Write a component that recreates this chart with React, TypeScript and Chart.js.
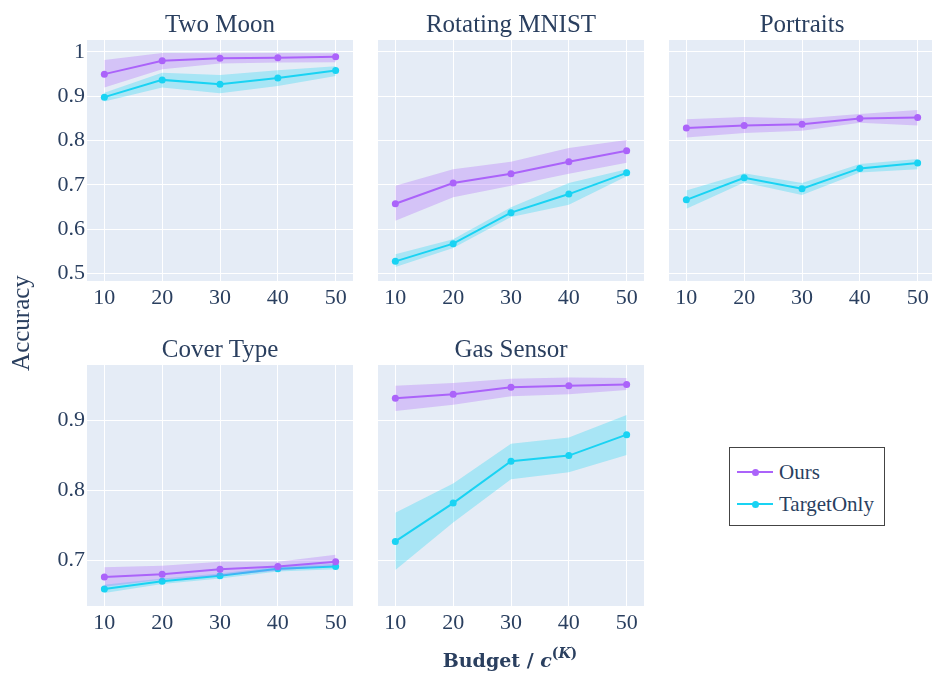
import React, { useEffect, useRef } from "react";
import { Chart, registerables } from "chart.js";

Chart.register(...registerables);

// ---- data ----
const budgets = [10, 20, 30, 40, 50];
const xTicks = [10, 20, 30, 40, 50];
const topYTicks = [0.5, 0.6, 0.7, 0.8, 0.9, 1];
const bottomYTicks = [0.7, 0.8, 0.9];
const seriesNames = ["Ours", "TargetOnly"];

const twoMoonOurs = [0.95, 0.98, 0.986, 0.987, 0.989];
const twoMoonOursLo = [0.92, 0.961, 0.974, 0.976, 0.977];
const twoMoonOursHi = [0.982, 0.998, 0.997, 0.998, 0.997];
const twoMoonTarget = [0.898, 0.937, 0.927, 0.941, 0.958];
const twoMoonTargetLo = [0.888, 0.92, 0.907, 0.923, 0.946];
const twoMoonTargetHi = [0.908, 0.953, 0.948, 0.959, 0.968];

const mnistOurs = [0.657, 0.704, 0.725, 0.752, 0.777];
const mnistOursLo = [0.619, 0.672, 0.698, 0.725, 0.75];
const mnistOursHi = [0.698, 0.735, 0.752, 0.783, 0.801];
const mnistTarget = [0.527, 0.567, 0.637, 0.679, 0.727];
const mnistTargetLo = [0.514, 0.557, 0.627, 0.655, 0.719];
const mnistTargetHi = [0.543, 0.577, 0.649, 0.704, 0.735];

const portraitsOurs = [0.828, 0.834, 0.837, 0.85, 0.852];
const portraitsOursLo = [0.807, 0.817, 0.822, 0.84, 0.834];
const portraitsOursHi = [0.848, 0.853, 0.85, 0.86, 0.869];
const portraitsTarget = [0.666, 0.716, 0.691, 0.737, 0.749];
const portraitsTargetLo = [0.646, 0.705, 0.677, 0.728, 0.735];
const portraitsTargetHi = [0.687, 0.726, 0.704, 0.747, 0.758];

const coverOurs = [0.676, 0.68, 0.687, 0.691, 0.698];
const coverOursLo = [0.662, 0.672, 0.678, 0.685, 0.692];
const coverOursHi = [0.69, 0.692, 0.698, 0.698, 0.708];
const coverTarget = [0.659, 0.67, 0.678, 0.688, 0.691];
const coverTargetLo = [0.653, 0.666, 0.674, 0.684, 0.687];
const coverTargetHi = [0.665, 0.674, 0.681, 0.691, 0.695];

const gasOurs = [0.932, 0.938, 0.948, 0.95, 0.952];
const gasOursLo = [0.914, 0.923, 0.935, 0.938, 0.944];
const gasOursHi = [0.95, 0.954, 0.96, 0.962, 0.961];
const gasTarget = [0.727, 0.782, 0.842, 0.85, 0.88];
const gasTargetLo = [0.686, 0.754, 0.816, 0.826, 0.851];
const gasTargetHi = [0.768, 0.81, 0.867, 0.876, 0.908];

// ---- styling / layout ----
const OURS_COLOR = "#AB63FA";
const TARGET_COLOR = "#19D3F3";
const OURS_BAND = "rgba(171,99,250,0.3)";
const TARGET_BAND = "rgba(25,211,243,0.3)";
const TEXT_COLOR = "#2a3f5f";
const PLOT_BG = "#E5ECF6";
const SERIF = "'Liberation Serif', 'Times New Roman', serif";

const COL_LEFT = [87, 378, 669];
const ROW_TOP = [40, 365];
const PLOT_W = 266;
const PLOT_H = 241;
const ROW_RANGE = [
  { min: 0.4826, max: 1.0271, ticks: topYTicks },
  { min: 0.6345, max: 0.9798, ticks: bottomYTicks },
];
const X_MIN = 7;
const X_MAX = 53;

// space around each plot area inside its canvas
const PAD_L = 70;
const PAD_B = 45;
const PAD_T = 20;
const PAD_R = 20;

type PanelSpec = {
  title: string;
  row: number;
  col: number;
  ours: number[];
  oursLo: number[];
  oursHi: number[];
  target: number[];
  targetLo: number[];
  targetHi: number[];
};

const panels: PanelSpec[] = [
  { title: "Two Moon", row: 0, col: 0, ours: twoMoonOurs, oursLo: twoMoonOursLo, oursHi: twoMoonOursHi, target: twoMoonTarget, targetLo: twoMoonTargetLo, targetHi: twoMoonTargetHi },
  { title: "Rotating MNIST", row: 0, col: 1, ours: mnistOurs, oursLo: mnistOursLo, oursHi: mnistOursHi, target: mnistTarget, targetLo: mnistTargetLo, targetHi: mnistTargetHi },
  { title: "Portraits", row: 0, col: 2, ours: portraitsOurs, oursLo: portraitsOursLo, oursHi: portraitsOursHi, target: portraitsTarget, targetLo: portraitsTargetLo, targetHi: portraitsTargetHi },
  { title: "Cover Type", row: 1, col: 0, ours: coverOurs, oursLo: coverOursLo, oursHi: coverOursHi, target: coverTarget, targetLo: coverTargetLo, targetHi: coverTargetHi },
  { title: "Gas Sensor", row: 1, col: 1, ours: gasOurs, oursLo: gasOursLo, oursHi: gasOursHi, target: gasTarget, targetLo: gasTargetLo, targetHi: gasTargetHi },
];

const plotBackground = {
  id: "plotBackground",
  beforeDraw(chart: any) {
    const { ctx, chartArea: a } = chart;
    ctx.save();
    ctx.fillStyle = PLOT_BG;
    ctx.fillRect(a.left, a.top, a.right - a.left, a.bottom - a.top);
    ctx.restore();
  },
};

const points = (ys: number[]) => budgets.map((x, i) => ({ x, y: ys[i] }));

function Panel({ spec }: { spec: PanelSpec }) {
  const ref = useRef<HTMLCanvasElement>(null);
  const width = PLOT_W + PAD_L + PAD_R;
  const height = PLOT_H + PAD_T + PAD_B;
  const showY = spec.col === 0;
  const range = ROW_RANGE[spec.row];

  useEffect(() => {
    const lineStyle = (color: string) => ({
      borderColor: color,
      backgroundColor: color,
      borderWidth: 2,
      pointRadius: 3.5,
      pointBorderWidth: 0,
      pointBackgroundColor: color,
      tension: 0,
      fill: false,
    });
    const bandEdge = { borderWidth: 0, pointRadius: 0, tension: 0, borderColor: "rgba(0,0,0,0)" };
    const tickFont = { family: SERIF, size: 22 };

    const chart = new Chart(ref.current as HTMLCanvasElement, {
      type: "line",
      data: {
        datasets: [
          { label: seriesNames[0], data: points(spec.ours), ...lineStyle(OURS_COLOR), order: 0 },
          { label: seriesNames[0] + " upper", data: points(spec.oursHi), ...bandEdge, fill: false, order: 1 },
          { label: seriesNames[0] + " lower", data: points(spec.oursLo), ...bandEdge, fill: "-1", backgroundColor: OURS_BAND, order: 1 },
          { label: seriesNames[1], data: points(spec.target), ...lineStyle(TARGET_COLOR), order: 2 },
          { label: seriesNames[1] + " upper", data: points(spec.targetHi), ...bandEdge, fill: false, order: 3 },
          { label: seriesNames[1] + " lower", data: points(spec.targetLo), ...bandEdge, fill: "-1", backgroundColor: TARGET_BAND, order: 3 },
        ] as any,
      },
      options: {
        animation: false,
        responsive: false,
        devicePixelRatio: 1,
        events: [],
        layout: { padding: { top: PAD_T, right: PAD_R, left: 0, bottom: 0 } },
        plugins: {
          legend: { display: false },
          tooltip: { enabled: false },
          title: { display: false },
        },
        scales: {
          x: {
            type: "linear",
            min: X_MIN,
            max: X_MAX,
            grid: { color: "#ffffff", lineWidth: 1, drawTicks: false },
            border: { display: false },
            ticks: {
              padding: 4,
              color: TEXT_COLOR,
              font: tickFont,
              maxRotation: 0,
              autoSkip: false,
              callback: (v: any) => String(v),
            },
            afterBuildTicks: (axis: any) => {
              axis.ticks = xTicks.map((value) => ({ value }));
            },
            afterFit: (scale: any) => {
              scale.height = PAD_B;
            },
          },
          y: {
            type: "linear",
            min: range.min,
            max: range.max,
            grid: { color: "#ffffff", lineWidth: 1, drawTicks: false },
            border: { display: false },
            ticks: {
              display: showY,
              padding: 2,
              color: TEXT_COLOR,
              font: tickFont,
              autoSkip: false,
              callback: (v: any) => String(v),
            },
            afterBuildTicks: (axis: any) => {
              axis.ticks = range.ticks.map((value) => ({ value }));
            },
            afterFit: (scale: any) => {
              scale.width = PAD_L;
            },
          },
        },
      } as any,
      plugins: [plotBackground],
    });
    return () => chart.destroy();
  }, []);

  return (
    <canvas
      ref={ref}
      width={width}
      height={height}
      style={{
        position: "absolute",
        left: COL_LEFT[spec.col] - PAD_L,
        top: ROW_TOP[spec.row] - PAD_T,
        width,
        height,
      }}
    />
  );
}

function PanelTitle({ spec }: { spec: PanelSpec }) {
  return (
    <div
      style={{
        position: "absolute",
        left: COL_LEFT[spec.col],
        width: PLOT_W,
        top: ROW_TOP[spec.row] - 29,
        textAlign: "center",
        fontFamily: SERIF,
        fontSize: 25,
        lineHeight: "25px",
        color: TEXT_COLOR,
        whiteSpace: "nowrap",
      }}
    >
      {spec.title}
    </div>
  );
}

function LegendRow({ color, label, y }: { color: string; label: string; y: number }) {
  return (
    <>
      <div style={{ position: "absolute", left: 7, top: y - 1, width: 36, height: 2, background: color }} />
      <div
        style={{
          position: "absolute",
          left: 25 - 3.5,
          top: y - 3.5,
          width: 7,
          height: 7,
          borderRadius: "50%",
          background: color,
        }}
      />
      <div
        style={{
          position: "absolute",
          left: 49,
          top: y - 12,
          lineHeight: "24px",
          fontFamily: SERIF,
          fontSize: 21,
          color: TEXT_COLOR,
          whiteSpace: "nowrap",
        }}
      >
        {label}
      </div>
    </>
  );
}

export default function App() {
  return (
    <div
      style={{
        position: "fixed",
        left: 0,
        top: 0,
        width: 932,
        height: 673,
        overflow: "hidden",
        background: "#ffffff",
      }}
    >
      {panels.map((p) => (
        <Panel key={p.title} spec={p} />
      ))}
      {panels.map((p) => (
        <PanelTitle key={p.title + "-t"} spec={p} />
      ))}

      {/* shared y-axis title */}
      <div
        style={{
          position: "absolute",
          left: 21 - 100,
          top: 323 - 15,
          width: 200,
          height: 30,
          lineHeight: "30px",
          textAlign: "center",
          transform: "rotate(-90deg)",
          fontFamily: SERIF,
          fontSize: 25,
          color: TEXT_COLOR,
          whiteSpace: "nowrap",
        }}
      >
        Accuracy
      </div>

      {/* shared x-axis title */}
      <div
        style={{
          position: "absolute",
          left: 510 - 150,
          width: 300,
          top: 651,
          lineHeight: "19px",
          textAlign: "center",
          fontFamily: "'DejaVu Serif', serif",
          fontWeight: "bold",
          fontSize: 19,
          color: TEXT_COLOR,
          whiteSpace: "nowrap",
        }}
      >
        Budget / <i>c</i>
        <span style={{ fontSize: 14, position: "relative", top: -9 }}>
          (<i>K</i>)
        </span>
      </div>

      {/* legend */}
      <div
        style={{
          position: "absolute",
          left: 729,
          top: 447,
          width: 156,
          height: 79,
          boxSizing: "border-box",
          border: "1px solid #444444",
          background: "#ffffff",
        }}
      >
        <LegendRow color={OURS_COLOR} label={seriesNames[0]} y={24} />
        <LegendRow color={TARGET_COLOR} label={seriesNames[1]} y={56} />
      </div>
    </div>
  );
}
